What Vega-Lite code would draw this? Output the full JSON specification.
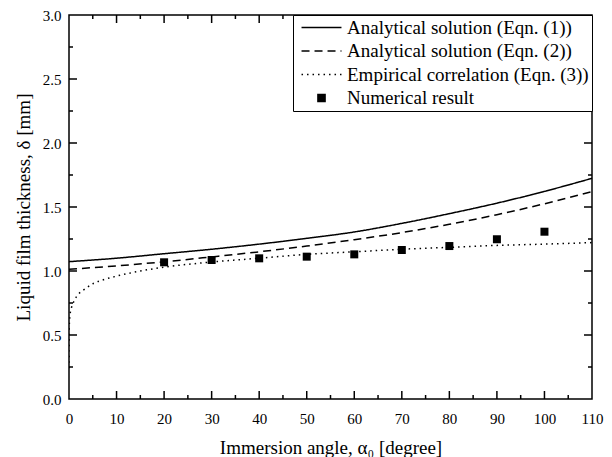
{
  "$schema": "https://vega.github.io/schema/vega-lite/v6.json",
  "width": 523,
  "height": 384,
  "autosize": {"type": "none"},
  "padding": {"left": 69, "top": 15, "right": 20, "bottom": 58},
  "background": "white",
  "config": {
    "font": "Liberation Serif",
    "view": {"stroke": "black", "strokeWidth": 1.5},
    "axis": {
      "domain": false,
      "ticks": false,
      "grid": false,
      "labelColor": "black",
      "labelFontSize": 15,
      "labelFont": "Liberation Serif",
      "titleFont": "Liberation Serif",
      "titleFontSize": 19,
      "titleFontWeight": "normal",
      "titleColor": "black",
      "labelOverlap": false,
      "labelFlush": false
    },
    "legend": {"labelFont": "Liberation Serif"}
  },
  "datasets": {
    "curves": [
      {"series": "Analytical solution (Eqn. (1))", "angle": 0, "delta": 1.073},
      {"series": "Analytical solution (Eqn. (1))", "angle": 10, "delta": 1.1},
      {"series": "Analytical solution (Eqn. (1))", "angle": 20, "delta": 1.135},
      {"series": "Analytical solution (Eqn. (1))", "angle": 30, "delta": 1.17},
      {"series": "Analytical solution (Eqn. (1))", "angle": 40, "delta": 1.21},
      {"series": "Analytical solution (Eqn. (1))", "angle": 50, "delta": 1.255},
      {"series": "Analytical solution (Eqn. (1))", "angle": 60, "delta": 1.305},
      {"series": "Analytical solution (Eqn. (1))", "angle": 70, "delta": 1.372},
      {"series": "Analytical solution (Eqn. (1))", "angle": 80, "delta": 1.448},
      {"series": "Analytical solution (Eqn. (1))", "angle": 90, "delta": 1.53},
      {"series": "Analytical solution (Eqn. (1))", "angle": 100, "delta": 1.622},
      {"series": "Analytical solution (Eqn. (1))", "angle": 110, "delta": 1.724},
      {"series": "Analytical solution (Eqn. (2))", "angle": 0, "delta": 1.013},
      {"series": "Analytical solution (Eqn. (2))", "angle": 10, "delta": 1.04},
      {"series": "Analytical solution (Eqn. (2))", "angle": 20, "delta": 1.072},
      {"series": "Analytical solution (Eqn. (2))", "angle": 30, "delta": 1.11},
      {"series": "Analytical solution (Eqn. (2))", "angle": 40, "delta": 1.15},
      {"series": "Analytical solution (Eqn. (2))", "angle": 50, "delta": 1.195},
      {"series": "Analytical solution (Eqn. (2))", "angle": 60, "delta": 1.245},
      {"series": "Analytical solution (Eqn. (2))", "angle": 70, "delta": 1.3},
      {"series": "Analytical solution (Eqn. (2))", "angle": 80, "delta": 1.365},
      {"series": "Analytical solution (Eqn. (2))", "angle": 90, "delta": 1.44},
      {"series": "Analytical solution (Eqn. (2))", "angle": 100, "delta": 1.525},
      {"series": "Analytical solution (Eqn. (2))", "angle": 110, "delta": 1.62},
      {"series": "Empirical correlation (Eqn. (3))", "angle": 0, "delta": 0.24},
      {"series": "Empirical correlation (Eqn. (3))", "angle": 0.001, "delta": 0.38},
      {"series": "Empirical correlation (Eqn. (3))", "angle": 0.05, "delta": 0.56},
      {"series": "Empirical correlation (Eqn. (3))", "angle": 0.2, "delta": 0.65},
      {"series": "Empirical correlation (Eqn. (3))", "angle": 0.5, "delta": 0.71},
      {"series": "Empirical correlation (Eqn. (3))", "angle": 1, "delta": 0.76},
      {"series": "Empirical correlation (Eqn. (3))", "angle": 2, "delta": 0.82},
      {"series": "Empirical correlation (Eqn. (3))", "angle": 3, "delta": 0.85},
      {"series": "Empirical correlation (Eqn. (3))", "angle": 5, "delta": 0.9},
      {"series": "Empirical correlation (Eqn. (3))", "angle": 7.5, "delta": 0.935},
      {"series": "Empirical correlation (Eqn. (3))", "angle": 10, "delta": 0.96},
      {"series": "Empirical correlation (Eqn. (3))", "angle": 15, "delta": 1.0},
      {"series": "Empirical correlation (Eqn. (3))", "angle": 20, "delta": 1.03},
      {"series": "Empirical correlation (Eqn. (3))", "angle": 30, "delta": 1.07},
      {"series": "Empirical correlation (Eqn. (3))", "angle": 40, "delta": 1.1},
      {"series": "Empirical correlation (Eqn. (3))", "angle": 50, "delta": 1.13},
      {"series": "Empirical correlation (Eqn. (3))", "angle": 60, "delta": 1.15},
      {"series": "Empirical correlation (Eqn. (3))", "angle": 70, "delta": 1.17},
      {"series": "Empirical correlation (Eqn. (3))", "angle": 80, "delta": 1.185},
      {"series": "Empirical correlation (Eqn. (3))", "angle": 90, "delta": 1.2},
      {"series": "Empirical correlation (Eqn. (3))", "angle": 100, "delta": 1.21},
      {"series": "Empirical correlation (Eqn. (3))", "angle": 110, "delta": 1.222}
    ],
    "numerical": [
      {"angle": 20, "delta": 1.068},
      {"angle": 30, "delta": 1.086},
      {"angle": 40, "delta": 1.099},
      {"angle": 50, "delta": 1.112},
      {"angle": 60, "delta": 1.13},
      {"angle": 70, "delta": 1.164},
      {"angle": 80, "delta": 1.195},
      {"angle": 90, "delta": 1.248},
      {"angle": 100, "delta": 1.307}
    ],
    "xmajor": [{"angle": 10}, {"angle": 20}, {"angle": 30}, {"angle": 40}, {"angle": 50}, {"angle": 60}, {"angle": 70}, {"angle": 80}, {"angle": 90}, {"angle": 100}],
    "xminor": [{"angle": 5}, {"angle": 15}, {"angle": 25}, {"angle": 35}, {"angle": 45}, {"angle": 55}, {"angle": 65}, {"angle": 75}, {"angle": 85}, {"angle": 95}, {"angle": 105}],
    "ymajor": [{"delta": 0.5}, {"delta": 1}, {"delta": 1.5}, {"delta": 2}, {"delta": 2.5}],
    "yminor": [{"delta": 0.25}, {"delta": 0.75}, {"delta": 1.25}, {"delta": 1.75}, {"delta": 2.25}, {"delta": 2.75}]
  },
  "layer": [
    {
      "data": {"name": "curves"},
      "mark": {"type": "line", "color": "black", "strokeWidth": 1.5, "interpolate": "monotone", "clip": true},
      "encoding": {
        "x": {
          "field": "angle", "type": "quantitative",
          "scale": {"domain": [0, 110], "nice": false, "zero": false},
          "axis": {
            "orient": "bottom",
            "values": [0, 10, 20, 30, 40, 50, 60, 70, 80, 90, 100, 110],
            "format": "d",
            "labelPadding": 12,
            "title": "Immersion angle, α₀ [degree]",
            "titlePadding": 12
          }
        },
        "y": {
          "field": "delta", "type": "quantitative",
          "scale": {"domain": [0, 3], "nice": false, "zero": false},
          "axis": {
            "orient": "left",
            "values": [0, 0.5, 1, 1.5, 2, 2.5, 3],
            "format": ".1f",
            "labelPadding": 8,
            "title": "Liquid film thickness, δ [mm]",
            "titlePadding": 9
          }
        },
        "strokeDash": {
          "field": "series", "type": "nominal",
          "scale": {
            "domain": ["Analytical solution (Eqn. (1))", "Analytical solution (Eqn. (2))", "Empirical correlation (Eqn. (3))", "Numerical result"],
            "range": [[1, 0], [8, 5], [1.5, 4], [1, 0]]
          },
          "legend": {
            "title": null,
            "orient": "top-right",
            "offset": 0,
            "padding": 3,
            "strokeColor": "black",
            "fillColor": "white",
            "symbolType": "M-2.35,0H2.35",
            "symbolSize": 289,
            "symbolStrokeWidth": 1.5,
            "symbolStrokeColor": "black",
            "symbolOffset": 16,
            "labelFontSize": 19,
            "labelFont": "Liberation Serif",
            "labelColor": "black",
            "labelLimit": 0,
            "labelOffset": 16,
            "rowPadding": 3.5,
            "encode": {
              "symbols": {
                "update": {
                  "shape": {"signal": "datum.value === 'Numerical result' ? 'M-0.42,-0.42H0.42V0.42H-0.42Z' : 'M-2.35,0H2.35'"},
                  "fill": {"signal": "datum.value === 'Numerical result' ? 'black' : 'transparent'"},
                  "stroke": {"value": "black"},
                  "opacity": {"value": 1}
                }
              }
            }
          }
        },
        "detail": {"field": "series"}
      }
    },
    {
      "data": {"name": "numerical"},
      "mark": {"type": "point", "shape": "square", "filled": true, "color": "black", "size": 64, "opacity": 1},
      "encoding": {
        "x": {"field": "angle", "type": "quantitative"},
        "y": {"field": "delta", "type": "quantitative"}
      }
    },
    {
      "data": {"name": "xmajor"},
      "mark": {"type": "tick", "orient": "vertical", "color": "black", "size": 8, "thickness": 1.5, "yOffset": -4, "opacity": 1},
      "encoding": {
        "x": {"field": "angle", "type": "quantitative"},
        "y": {"datum": 0, "type": "quantitative"}
      }
    },
    {
      "data": {"name": "xmajor"},
      "mark": {"type": "tick", "orient": "vertical", "color": "black", "size": 8, "thickness": 1.5, "yOffset": 4, "opacity": 1},
      "encoding": {
        "x": {"field": "angle", "type": "quantitative"},
        "y": {"datum": 3, "type": "quantitative"}
      }
    },
    {
      "data": {"name": "xminor"},
      "mark": {"type": "tick", "orient": "vertical", "color": "black", "size": 4, "thickness": 1.5, "yOffset": -2, "opacity": 1},
      "encoding": {
        "x": {"field": "angle", "type": "quantitative"},
        "y": {"datum": 0, "type": "quantitative"}
      }
    },
    {
      "data": {"name": "xminor"},
      "mark": {"type": "tick", "orient": "vertical", "color": "black", "size": 4, "thickness": 1.5, "yOffset": 2, "opacity": 1},
      "encoding": {
        "x": {"field": "angle", "type": "quantitative"},
        "y": {"datum": 3, "type": "quantitative"}
      }
    },
    {
      "data": {"name": "ymajor"},
      "mark": {"type": "tick", "orient": "horizontal", "color": "black", "size": 8, "thickness": 1.5, "xOffset": 4, "opacity": 1},
      "encoding": {
        "y": {"field": "delta", "type": "quantitative"},
        "x": {"datum": 0, "type": "quantitative"}
      }
    },
    {
      "data": {"name": "ymajor"},
      "mark": {"type": "tick", "orient": "horizontal", "color": "black", "size": 8, "thickness": 1.5, "xOffset": -4, "opacity": 1},
      "encoding": {
        "y": {"field": "delta", "type": "quantitative"},
        "x": {"datum": 110, "type": "quantitative"}
      }
    },
    {
      "data": {"name": "yminor"},
      "mark": {"type": "tick", "orient": "horizontal", "color": "black", "size": 4, "thickness": 1.5, "xOffset": 2, "opacity": 1},
      "encoding": {
        "y": {"field": "delta", "type": "quantitative"},
        "x": {"datum": 0, "type": "quantitative"}
      }
    },
    {
      "data": {"name": "yminor"},
      "mark": {"type": "tick", "orient": "horizontal", "color": "black", "size": 4, "thickness": 1.5, "xOffset": -2, "opacity": 1},
      "encoding": {
        "y": {"field": "delta", "type": "quantitative"},
        "x": {"datum": 110, "type": "quantitative"}
      }
    }
  ]
}
